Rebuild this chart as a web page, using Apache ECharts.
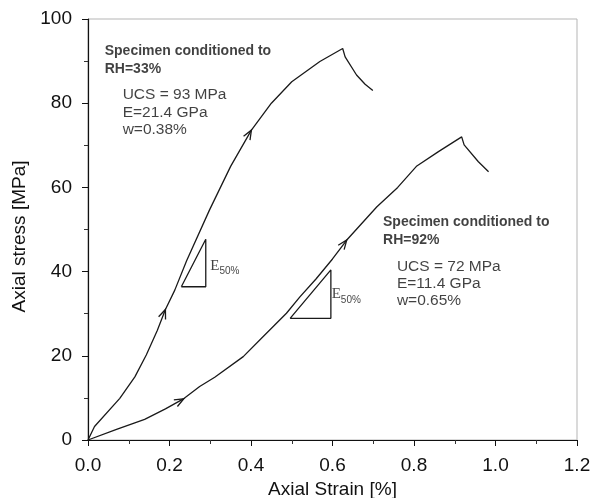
<!DOCTYPE html>
<html>
<head>
<meta charset="utf-8">
<script src="https://cdn.jsdelivr.net/npm/echarts@6/dist/echarts.min.js"></script>
<style>
html,body{margin:0;padding:0;background:#fff;}
#chart{width:593px;height:498px;}
</style>
</head>
<body>
<div id="chart"></div>
<script>
// Specimen conditioned to RH=33%
var rh33Strain = [0, 0.016, 0.078, 0.115, 0.143, 0.17, 0.19, 0.213, 0.242, 0.298, 0.35, 0.401, 0.45, 0.50, 0.569, 0.625, 0.631, 0.659, 0.68, 0.699];
var rh33Stress = [0, 3.2, 9.9, 15.0, 20.2, 26, 31, 35.6, 42.6, 54.6, 65, 73.6, 80, 85.1, 89.9, 93.0, 91.0, 86.7, 84.5, 83.0];
// Specimen conditioned to RH=92%
var rh92Strain = [0, 0.07, 0.139, 0.19, 0.233, 0.274, 0.311, 0.381, 0.43, 0.487, 0.52, 0.56, 0.60, 0.635, 0.709, 0.76, 0.807, 0.86, 0.917, 0.923, 0.958, 0.983];
var rh92Stress = [0, 2.5, 4.9, 7.4, 9.7, 12.7, 14.9, 19.8, 24.6, 30.1, 34.0, 38.3, 43, 47.5, 55.4, 60, 65.1, 68.5, 72.0, 70.1, 66.1, 63.7];
// E50% slope triangles
var tri33Strain = [0.229, 0.289, 0.289, 0.229];
var tri33Stress = [36.4, 36.4, 47.7, 36.4];
var tri92Strain = [0.496, 0.596, 0.596, 0.496];
var tri92Stress = [28.9, 28.9, 40.4, 28.9];
// loading-direction arrows: tip and a preceding point on the curve
var arrowTipStrain = [0.19, 0.401, 0.235, 0.635];
var arrowTipStress = [31, 73.6, 9.8, 47.5];
var arrowFromStrain = [0.17, 0.35, 0.19, 0.60];
var arrowFromStress = [26, 65, 7.4, 43];
// E50 label anchors
var e50Strain = [0.30, 0.598];
var e50Stress = [41.3, 34.6];
// annotation text
var ann33Title = ['Specimen conditioned to', 'RH=33%'];
var ann33Values = ['UCS = 93 MPa', 'E=21.4 GPa', 'w=0.38%'];
var ann92Title = ['Specimen conditioned to', 'RH=92%'];
var ann92Values = ['UCS = 72 MPa', 'E=11.4 GPa', 'w=0.65%'];
// axis ticks
var xTicks = [0, 0.2, 0.4, 0.6, 0.8, 1.0, 1.2];
var yTicks = [0, 20, 40, 60, 80, 100];

function zip(a, b) { return a.map(function (v, i) { return [v, b[i]]; }); }

var FONT = 'Liberation Sans, Arial, sans-serif';
var LINE = '#1a1a1a';
var TXT = '#111';

var chart = echarts.init(document.getElementById('chart'), null, {renderer: 'canvas'});

function textSeries(name, x, y, lines, bold, size, lh) {
  return {
    name: name, type: 'scatter', data: [[x, y]], symbolSize: 0, silent: true,
    label: {
      show: true, position: [0, 0], align: 'left', verticalAlign: 'top',
      formatter: lines.join('\n'), color: TXT, fontFamily: FONT,
      fontWeight: bold ? 'bold' : 'normal', fontSize: size, lineHeight: lh
    }
  };
}

var option = {
  animation: false,
  backgroundColor: '#fff',
  grid: {left: 88, right: 16, top: 19, bottom: 58, show: true, borderColor: '#b5b5b5', borderWidth: 1,
    containLabel: false, outerBoundsMode: 'none'},
  xAxis: {
    type: 'value', min: xTicks[0], max: xTicks[xTicks.length - 1], interval: 0.2,
    name: 'Axial Strain [%]', nameLocation: 'middle', nameGap: 39,
    nameTextStyle: {fontFamily: FONT, fontSize: 19, color: TXT},
    axisLine: {show: true, lineStyle: {color: '#111', width: 1.2}},
    axisTick: {show: true, inside: false, length: 6, lineStyle: {color: '#111'}},
    minorTick: {show: true, splitNumber: 2, length: 4, lineStyle: {color: '#333'}},
    splitLine: {show: false},
    axisLabel: {fontFamily: FONT, fontSize: 19, color: TXT, margin: 16,
      formatter: function (v) { return v.toFixed(1); }}
  },
  yAxis: {
    type: 'value', min: yTicks[0], max: yTicks[yTicks.length - 1], interval: 20,
    name: 'Axial stress [MPa]', nameLocation: 'middle', nameGap: 50,
    nameTextStyle: {fontFamily: FONT, fontSize: 19, color: TXT, padding: [0, 14, 0, 0]},
    axisLine: {show: true, lineStyle: {color: '#111', width: 1.2}},
    axisTick: {show: true, inside: false, length: 6, lineStyle: {color: '#111'}},
    minorTick: {show: true, splitNumber: 2, length: 4, lineStyle: {color: '#333'}},
    splitLine: {show: false},
    axisLabel: {fontFamily: FONT, fontSize: 19, color: TXT, margin: 16}
  },
  series: [
    {name: 'RH=33%', type: 'line', data: zip(rh33Strain, rh33Stress), showSymbol: false, symbol: 'none',
      lineStyle: {color: LINE, width: 1.3}, silent: true},
    {name: 'RH=92%', type: 'line', data: zip(rh92Strain, rh92Stress), showSymbol: false, symbol: 'none',
      lineStyle: {color: LINE, width: 1.3}, silent: true},
    {name: 'E50 RH=33%', type: 'line', data: zip(tri33Strain, tri33Stress), showSymbol: false, symbol: 'none',
      lineStyle: {color: LINE, width: 1.3}, silent: true},
    {name: 'E50 RH=92%', type: 'line', data: zip(tri92Strain, tri92Stress), showSymbol: false, symbol: 'none',
      lineStyle: {color: LINE, width: 1.3}, silent: true},
    {
      name: 'arrows', type: 'custom', silent: true,
      data: arrowTipStrain.map(function (v, i) { return [v, arrowTipStress[i], arrowFromStrain[i], arrowFromStress[i]]; }),
      encode: {x: 0, y: 1},
      renderItem: function (params, api) {
        var tip = api.coord([api.value(0), api.value(1)]);
        var prev = api.coord([api.value(2), api.value(3)]);
        var ang = Math.atan2(tip[1] - prev[1], tip[0] - prev[0]);
        var len = 10, spread = 0.38;
        var p1 = [tip[0] - len * Math.cos(ang - spread), tip[1] - len * Math.sin(ang - spread)];
        var p2 = [tip[0] - len * Math.cos(ang + spread), tip[1] - len * Math.sin(ang + spread)];
        return {type: 'polyline', shape: {points: [p1, tip, p2]},
          style: {stroke: LINE, lineWidth: 1.3, fill: null}};
      }
    },
    {
      name: 'E50 labels', type: 'scatter', symbolSize: 0, silent: true,
      data: zip(e50Strain, e50Stress),
      label: {
        show: true, position: [0, 0], align: 'left', verticalAlign: 'middle',
        formatter: '{e|E}{s|50%}',
        rich: {
          e: {fontFamily: 'Liberation Serif, Times New Roman, serif', fontSize: 15, color: TXT, verticalAlign: 'bottom'},
          s: {fontFamily: 'Liberation Sans, Arial, sans-serif', fontSize: 10, color: TXT, verticalAlign: 'bottom', padding: [0, 0, -3, 0]}
        }
      }
    },
    textSeries('ann33 title', 0.041, 94.4, ann33Title, true, 14, 18),
    textSeries('ann33 values', 0.085, 84.0, ann33Values, false, 15.5, 17.5),
    textSeries('ann92 title', 0.724, 53.8, ann92Title, true, 14, 18),
    textSeries('ann92 values', 0.758, 43.2, ann92Values, false, 15.5, 17)
  ]
};
chart.setOption(option);
</script>
</body>
</html>
